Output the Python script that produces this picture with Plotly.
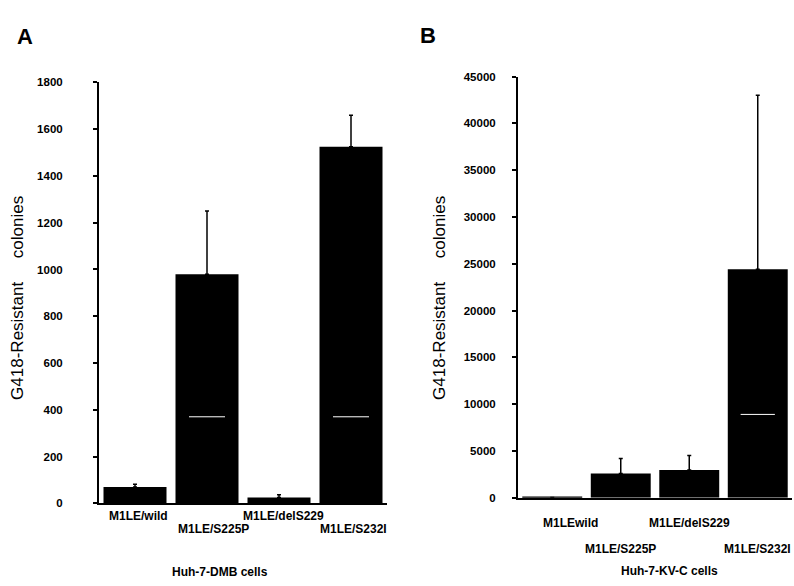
import plotly.graph_objects as go

# ---------------- data ----------------
cats_a = ["M1LE/wild", "M1LE/S225P", "M1LE/delS229", "M1LE/S232I"]
vals_a = [70, 980, 25, 1525]
err_a = [12, 270, 12, 135]

cats_b = ["M1LEwild", "M1LE/S225P", "M1LE/delS229", "M1LE/S232I"]
vals_b = [30, 2600, 2950, 24400]
err_b = [None, 1600, 1550, 18600]

ticks_a = [0, 200, 400, 600, 800, 1000, 1200, 1400, 1600, 1800]
ticks_b = [0, 5000, 10000, 15000, 20000, 25000, 30000, 35000, 40000, 45000]

W, H = 794, 586
FONT = "Liberation Sans, Arial, sans-serif"


def px_x(p):
    return p / W


def px_y(p):
    return 1 - p / H


fig = go.Figure()

fig.add_trace(go.Bar(
    x=cats_a, y=vals_a, xaxis="x", yaxis="y",
    marker=dict(color="black", line=dict(width=0)),
    error_y=dict(type="data", array=err_a, symmetric=False,
                 color="black", thickness=1.5, width=2),
    showlegend=False,
))
fig.add_trace(go.Bar(
    x=cats_b, y=vals_b, xaxis="x2", yaxis="y2",
    marker=dict(color="black", line=dict(width=0)),
    error_y=dict(type="data", array=err_b, symmetric=False,
                 color="black", thickness=1.5, width=2),
    showlegend=False,
))

tickfont = dict(family=FONT, size=11.5, color="black", weight="bold")

fig.update_layout(
    width=W, height=H,
    margin=dict(l=0, r=0, t=0, b=0),
    paper_bgcolor="white", plot_bgcolor="white",
    bargap=0.125,
    font=dict(family=FONT, color="black"),
    xaxis=dict(domain=[px_x(99), px_x(387)], range=[-0.5, 3.5],
               showticklabels=False, ticks="", showline=True, linecolor="black",
               linewidth=1.5, showgrid=False, zeroline=False, anchor="y"),
    yaxis=dict(domain=[px_y(507.7), px_y(78)], range=[0, 1800],
               tickvals=ticks_a, tickformat="d", ticks="outside", ticklen=4,
               tickwidth=1.5, tickcolor="black", showline=True, linecolor="black",
               linewidth=2, showgrid=False, zeroline=False, tickfont=tickfont,
               ticklabelstandoff=28, anchor="x"),
    xaxis2=dict(domain=[px_x(518), px_x(792)], range=[-0.5, 3.5],
                showticklabels=False, ticks="", showline=True, linecolor="black",
                linewidth=1.5, showgrid=False, zeroline=False, anchor="y2"),
    yaxis2=dict(domain=[px_y(502), px_y(72)], range=[0, 45000],
                tickvals=ticks_b, tickformat="d", ticks="outside", ticklen=4,
                tickwidth=1.5, tickcolor="black", showline=True, linecolor="black",
                linewidth=2, showgrid=False, zeroline=False, tickfont=tickfont,
                ticklabelstandoff=14, anchor="x2"),
)

ann = []
lblfont = dict(family=FONT, size=12, color="black", weight="bold")
# Panel A category labels (staggered)
rows_a = [521, 534, 521, 534]
shifts_a = [3, 6, 4, 2]
for c, yy, sh in zip(cats_a, rows_a, shifts_a):
    ann.append(dict(x=c, xref="x", y=px_y(yy), yref="paper", text=c, xshift=sh,
                    showarrow=False, font=lblfont, xanchor="center", yanchor="middle"))
rows_b = [528, 554, 528, 554]
shifts_b = [18, 0, 0, 0]
for c, yy, sh in zip(cats_b, rows_b, shifts_b):
    ann.append(dict(x=c, xref="x2", y=px_y(yy), yref="paper", text=c, xshift=sh,
                    showarrow=False, font=lblfont, xanchor="center", yanchor="middle"))

ann.append(dict(x=px_x(220), y=px_y(578), xref="paper", yref="paper",
                text="Huh-7-DMB cells", showarrow=False, font=lblfont,
                xanchor="center", yanchor="middle"))
ann.append(dict(x=px_x(669), y=px_y(577), xref="paper", yref="paper",
                text="Huh-7-KV-C cells", showarrow=False, font=lblfont,
                xanchor="center", yanchor="middle"))

ytitle = "G418-Resistant\u00a0\u00a0\u00a0\u00a0 colonies"
titlefont = dict(family=FONT, size=17, color="black")
ann.append(dict(x=px_x(18), y=px_y(298), xref="paper", yref="paper", text=ytitle,
                textangle=-90, showarrow=False, font=titlefont,
                xanchor="center", yanchor="middle"))
ann.append(dict(x=px_x(440), y=px_y(298), xref="paper", yref="paper", text=ytitle,
                textangle=-90, showarrow=False, font=titlefont,
                xanchor="center", yanchor="middle"))

letterfont = dict(family=FONT, size=22, color="black", weight="bold")
ann.append(dict(x=px_x(25), y=px_y(31), xref="paper", yref="paper", text="A",
                showarrow=False, font=letterfont, xanchor="center", yanchor="middle"))
ann.append(dict(x=px_x(428), y=px_y(30), xref="paper", yref="paper", text="B",
                showarrow=False, font=letterfont, xanchor="center", yanchor="middle"))

fig.update_layout(annotations=ann)

# faint white scan streaks inside the tall bars
streaks = [("x", "y", 1, 370), ("x", "y", 3, 370), ("x2", "y2", 3, 8900)]
shapes = []
for xr, yr, i, yv in streaks:
    shapes.append(dict(type="line", xref=xr, yref=yr, x0=i - 0.25, x1=i + 0.25,
                       y0=yv, y1=yv, line=dict(color="white", width=1)))
fig.update_layout(shapes=shapes)

fig.write_html("out.html")
